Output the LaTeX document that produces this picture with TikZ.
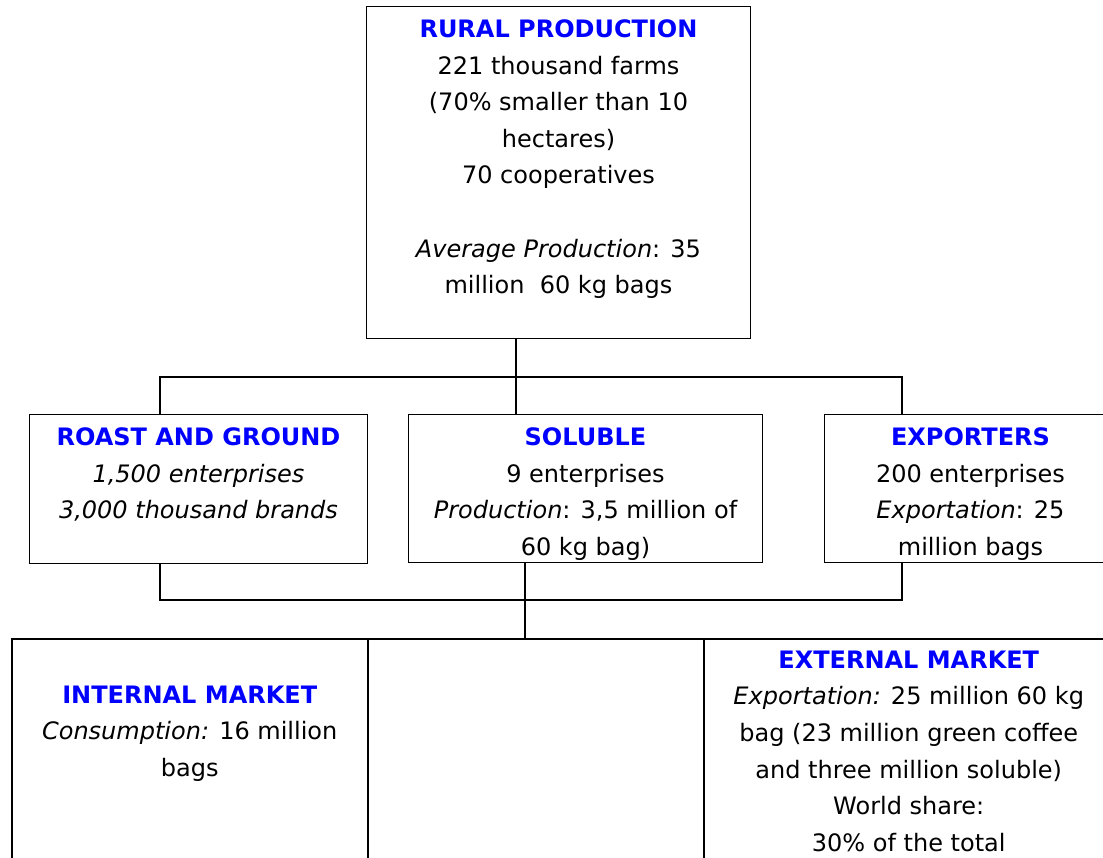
\documentclass[tikz,border=0pt]{standalone}
\usepackage{fontspec}
\setmainfont{DejaVu Sans}
\usepackage{xcolor}
\usepackage{tikz}
\usetikzlibrary{positioning}
\definecolor{headblue}{RGB}{0,0,255}
\newcommand{\boxtitle}[1]{\textcolor{headblue}{\bfseries #1}}

\begin{document}
\begin{tikzpicture}[x=1pt,y=-1pt,font=\fontsize{24}{36.6}\selectfont,
  box/.style={draw,line width=1pt,inner sep=0pt,anchor=north west},
  txt/.style={align=center,inner sep=0pt},
  link/.style={line width=1.5pt}]
\useasboundingbox (0,0) rectangle (1103,857);
\clip (0,0) rectangle (1103,857);
% boxes
\node[box,minimum width=384,minimum height=332] (rural) at (366,6) {};
\node[box,minimum width=338,minimum height=149] (roast) at (29,414) {};
\node[box,minimum width=354,minimum height=148] (soluble) at (408,414) {};
\node[box,minimum width=292,minimum height=148] (exporters) at (824,414) {};
\node[box,line width=1.5pt,minimum width=356,minimum height=300] (internal) at (11,638) {};
\node[box,line width=1.5pt,minimum width=336,minimum height=300] (blank) at (367,638) {};
\node[box,line width=1.5pt,minimum width=410,minimum height=300] (external) at (703,638) {};
% texts
\node[txt,below=13.5pt of rural.north] (ruraltxt) {\boxtitle{RURAL PRODUCTION}\\
  221 thousand farms\\(70\% smaller than 10\\hectares)\\70 cooperatives\\[36.6pt]
  \textit{Average Production}: 35\\million \ 60 kg bags};
\node[txt,below=13.5pt of roast.north] (roasttxt) {\boxtitle{ROAST AND GROUND}\\
  \textit{1,500 enterprises}\\\textit{3,000 thousand brands}};
\node[txt,below=13.5pt of soluble.north] (solubletxt) {\boxtitle{SOLUBLE}\\
  9 enterprises\\\textit{Production}: 3,5 million of\\60 kg bag)};
\node[txt,below=13.5pt of exporters.north] (exporterstxt) {\boxtitle{EXPORTERS}\\
  200 enterprises\\\textit{Exportation}: 25\\million bags};
\node[txt,below=47.5pt of internal.north] (internaltxt) {\boxtitle{INTERNAL MARKET}\\
  \textit{Consumption:} 16 million\\bags};
\node[txt,below=12.5pt of external.north] (externaltxt) {\boxtitle{EXTERNAL MARKET}\\
  \textit{Exportation:} 25 million 60 kg\\bag (23 million green coffee\\
  and three million soluble)\\World share:\\30\% of the total};
% connectors
\coordinate (hubtop) at (516,377);
\coordinate (hubbot) at (525,600);
\coordinate (armtl) at (160,377);
\coordinate (armtr) at (902,377);
\coordinate (armbl) at (160,600);
\coordinate (armbr) at (902,600);
\draw[link] (hubtop |- rural.south) -- (hubtop |- soluble.north);
\draw[link] (armtl |- roast.north) -- (armtl) -- (armtr) -- (armtr |- exporters.north);
\draw[link] (armbl |- roast.south) -- (armbl) -- (armbr) -- (armbr |- exporters.south);
\draw[link] (hubbot |- soluble.south) -- (hubbot |- blank.north);
\end{tikzpicture}
\end{document}
